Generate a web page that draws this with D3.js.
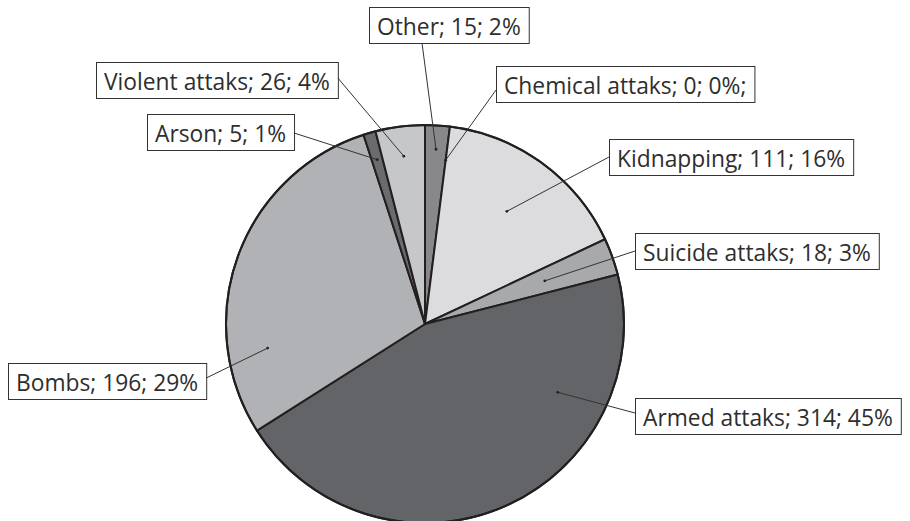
<!DOCTYPE html>
<html><head><meta charset="utf-8">
<script src="https://cdn.jsdelivr.net/npm/d3@7"></script>
<style>html,body{margin:0;padding:0;background:#fff;}svg{display:block;}</style>
</head><body>
<svg id="chart" width="910" height="521"></svg>
<script>
// ---- data ----
const categories = ["Other", "Chemical attaks", "Kidnapping", "Suicide attaks", "Armed attaks", "Bombs", "Arson", "Violent attaks"];
const counts = [15, 0, 111, 18, 314, 196, 5, 26];
const percents = [2, 0, 16, 3, 45, 29, 1, 4];
const labelTexts = ["Other; 15; 2%", "Chemical attaks; 0; 0%;", "Kidnapping; 111; 16%", "Suicide attaks; 18; 3%", "Armed attaks; 314; 45%", "Bombs; 196; 29%", "Arson; 5; 1%", "Violent attaks; 26; 4%"];
const colors = ["#88888b", "#9a9a9c", "#dcdcde", "#a8a9ab", "#636467", "#b1b2b5", "#6a6b6e", "#c6c7c9"];

// ---- layout (label boxes & leader anchors) ----
const boxLeft = [369, 496, 609, 635, 635, 8, 147, 96];
const boxTop  = [7, 66, 139, 233, 398, 363, 114, 62];
const boxTargetW = [135, 263, 234, 248, 273, 203, 151, 252];
const attachSide = ["bottom", "left", "left", "left", "left", "right", "right", "right"];
const attachOff = [53, 24, 18, 18, 15, 15, 19, 16];
const anchorFrac = [0.5, 0.5, 0.5, 0.5, 0.257, 0.227, 0.5, 0.5];
const anchorRad = [0.88, 0.83, 0.70, 0.64, 0.75, 0.80, 0.86, 0.85];

const W = 910, H = 521, cx = 425, cy = 324, R = 199, boxH = 36, padL = 8, fontSize = 23;

const svg = d3.select("#chart");
const pie = d3.pie().sort(null).value(d => d.p).startAngle(0).endAngle(2 * Math.PI);
const data = categories.map((c, i) => ({c, v: counts[i], p: percents[i], i}));
const arcs = pie(data);
const arc = d3.arc().innerRadius(0).outerRadius(R);

const g = svg.append("g").attr("transform", `translate(${cx},${cy})`);
g.selectAll("path.slice").data(arcs.filter(a => a.data.p > 0)).join("path")
  .attr("class", "slice")
  .attr("d", arc)
  .attr("fill", d => colors[d.data.i])
  .attr("stroke", "#231f20")
  .attr("stroke-width", 2)
  .attr("stroke-linejoin", "round");
g.append("circle").attr("r", R).attr("fill", "none").attr("stroke", "#231f20").attr("stroke-width", 2);

const fontFamily = "'Open Sans', 'DejaVu Sans', sans-serif";
// uniform horizontal condensing to mimic the narrow original typeface
const probe = svg.append("text").attr("font-family", fontFamily).attr("font-size", fontSize);
const natural = labelTexts.map(t => { probe.text(t); return probe.node().getComputedTextLength(); });
probe.remove();
const sx = d3.sum(boxTargetW, w => w - 2 * padL) / d3.sum(natural);

const lg = svg.append("g");
arcs.forEach((a, i) => {
  const tw = natural[i] * sx;
  const bw = tw + 2 * padL;
  lg.append("rect")
    .attr("x", boxLeft[i] + 0.5).attr("y", boxTop[i] + 0.5)
    .attr("width", bw).attr("height", boxH)
    .attr("fill", "#fff").attr("stroke", "#333").attr("stroke-width", 1);
  lg.append("text")
    .attr("font-family", fontFamily)
    .attr("font-size", fontSize)
    .attr("fill", "#2e2e2e")
    .attr("x", boxLeft[i] + padL)
    .attr("y", boxTop[i] + boxH / 2 + 1)
    .attr("dominant-baseline", "central")
    .attr("textLength", tw)
    .attr("lengthAdjust", "spacingAndGlyphs")
    .text(labelTexts[i]);

  const ang = a.startAngle + anchorFrac[i] * (a.endAngle - a.startAngle);
  const ax = cx + R * anchorRad[i] * Math.sin(ang);
  const ay = cy - R * anchorRad[i] * Math.cos(ang);
  let px, py;
  if (attachSide[i] === "left") { px = boxLeft[i]; py = boxTop[i] + attachOff[i]; }
  else if (attachSide[i] === "right") { px = boxLeft[i] + bw; py = boxTop[i] + attachOff[i]; }
  else { px = boxLeft[i] + attachOff[i]; py = boxTop[i] + boxH; }
  svg.append("line").attr("x1", px).attr("y1", py).attr("x2", ax).attr("y2", ay)
    .attr("stroke", "#333").attr("stroke-width", 1);
  svg.append("circle").attr("cx", ax).attr("cy", ay).attr("r", 1.4).attr("fill", "#222");
});
</script>
</body></html>
